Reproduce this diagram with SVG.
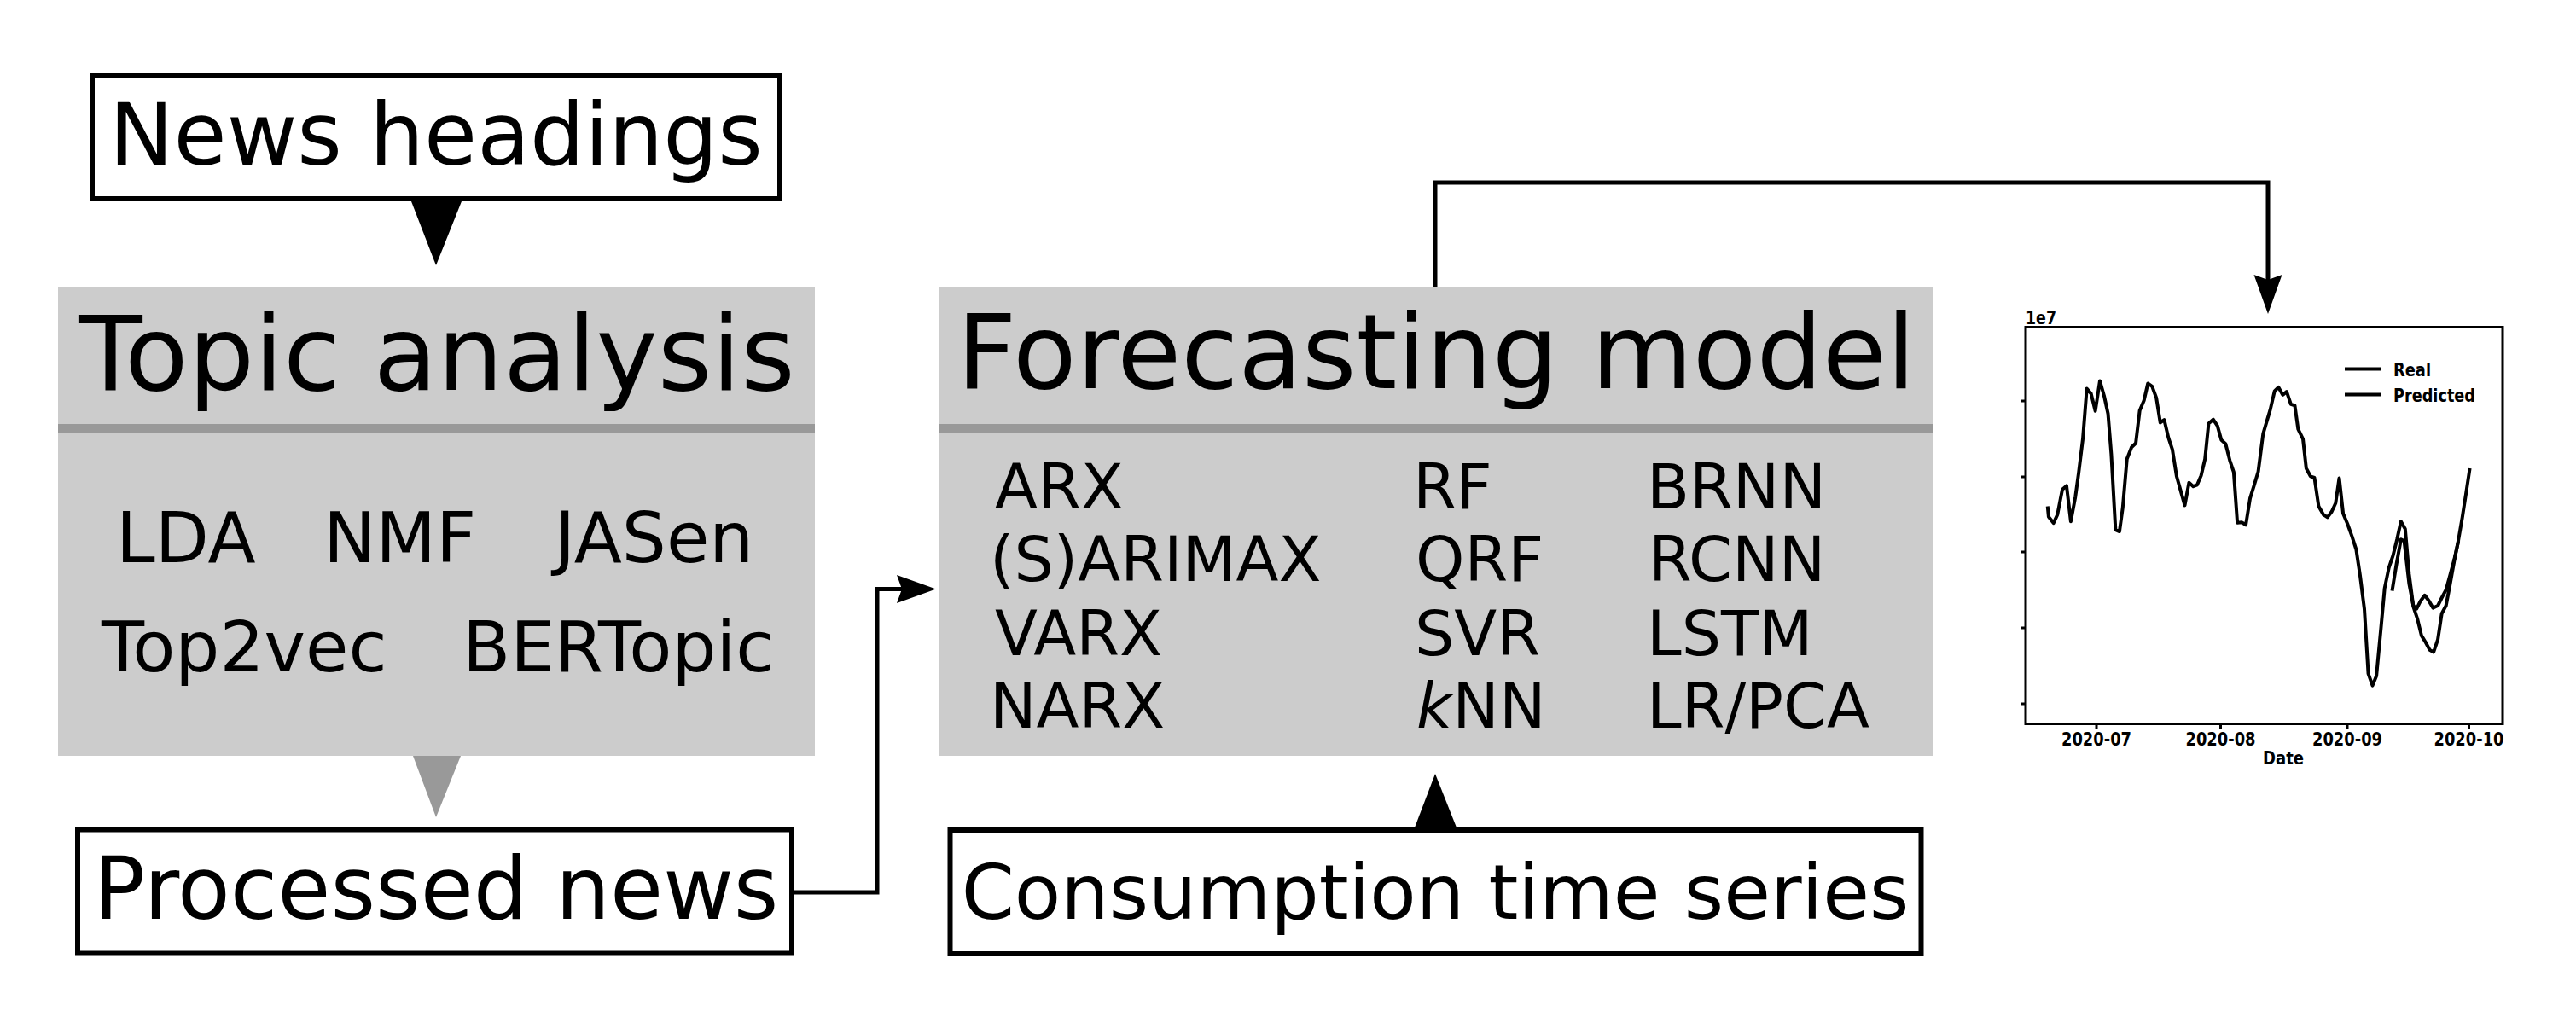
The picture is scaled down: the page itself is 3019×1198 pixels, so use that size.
<svg xmlns="http://www.w3.org/2000/svg" width="3019" height="1198" viewBox="0 0 3019 1198">
<style>
.box{fill:#fff;stroke:#000;stroke-width:6}
.panel{fill:#ccc}
.sep{fill:#999}
.t{font-family:"DejaVu Sans",sans-serif;fill:#000}
.conn{fill:none;stroke:#000;stroke-width:5}
.ax{fill:none;stroke:#000;stroke-width:3}
.cl{fill:none;stroke:#000;stroke-width:4;stroke-linejoin:round;vector-effect:non-scaling-stroke}
.ct{font-family:"DejaVu Sans",sans-serif;font-weight:bold;font-size:22px;fill:#000}
</style>
<defs>
<marker id="ah" markerUnits="userSpaceOnUse" markerWidth="50" markerHeight="40" viewBox="0 -20 50 40" refX="26" refY="0" orient="auto">
<path d="M0,-16.5 L46,0 L0,16.5 L6,0 Z" fill="#000"/>
</marker>
</defs>
<rect width="3019" height="1198" fill="#fff"/>

<g id="news-headings">
<rect class="box" x="108" y="89" width="806" height="144"/>
<text class="t" x="511" y="193" font-size="101" text-anchor="middle">News headings</text>
</g>

<g id="topic-analysis">
<rect class="panel" x="68" y="337" width="887" height="549"/>
<rect class="sep" x="68" y="497" width="887" height="10"/>
<text class="t" x="512" y="457" font-size="122" text-anchor="middle">Topic analysis</text>
<text class="t" x="136" y="659" font-size="82">LDA</text>
<text class="t" x="379" y="659" font-size="82">NMF</text>
<text class="t" x="650" y="659" font-size="82">JASen</text>
<text class="t" x="119" y="787" font-size="82">Top2vec</text>
<text class="t" x="542" y="787" font-size="82">BERTopic</text>
</g>

<g id="processed-news">
<rect class="box" x="91" y="972.5" width="837" height="145"/>
<text class="t" x="511" y="1077" font-size="101" text-anchor="middle">Processed news</text>
</g>

<g id="forecasting-model">
<rect class="panel" x="1100" y="337" width="1165" height="549"/>
<rect class="sep" x="1100" y="497" width="1165" height="10"/>
<text class="t" x="1683" y="455" font-size="122" text-anchor="middle">Forecasting model</text>
<g font-size="73">
<text class="t" x="1166" y="596">ARX</text>
<text class="t" x="1160" y="681">(S)ARIMAX</text>
<text class="t" x="1166" y="768">VARX</text>
<text class="t" x="1160" y="853">NARX</text>
<text class="t" x="1656" y="596">RF</text>
<text class="t" x="1659" y="681">QRF</text>
<text class="t" x="1658" y="768">SVR</text>
<text class="t" x="1660" y="853"><tspan font-style="italic">k</tspan>NN</text>
<text class="t" x="1930" y="596">BRNN</text>
<text class="t" x="1932" y="681">RCNN</text>
<text class="t" x="1930" y="768">LSTM</text>
<text class="t" x="1930" y="853">LR/PCA</text>
</g>
</g>

<g id="consumption-time-series">
<rect class="box" x="1113.5" y="973" width="1138" height="145"/>
<text class="t" x="1682" y="1077" font-size="89" text-anchor="middle">Consumption time series</text>
</g>

<g id="forecast-chart">
<rect class="ax" x="2374" y="383.5" width="559" height="465"/>
<path class="ax" d="M2369,470H2374M2369,559H2374M2369,647H2374M2369,736H2374M2369,825H2374M2457,848.5V854M2602.5,848.5V854M2751,848.5V854M2893.5,848.5V854"/>
<text class="ct" x="2374" y="380" textLength="36" lengthAdjust="spacingAndGlyphs">1e7</text>
<text class="ct" x="2457" y="874" text-anchor="middle" textLength="82" lengthAdjust="spacingAndGlyphs">2020-07</text>
<text class="ct" x="2602.5" y="874" text-anchor="middle" textLength="82" lengthAdjust="spacingAndGlyphs">2020-08</text>
<text class="ct" x="2751" y="874" text-anchor="middle" textLength="82" lengthAdjust="spacingAndGlyphs">2020-09</text>
<text class="ct" x="2893.5" y="874" text-anchor="middle" textLength="82" lengthAdjust="spacingAndGlyphs">2020-10</text>
<text class="ct" x="2676" y="896" text-anchor="middle" textLength="48" lengthAdjust="spacingAndGlyphs">Date</text>
<path class="ax" d="M2748,432.5H2790M2748,462.5H2790" style="stroke-width:4"/>
<text class="ct" x="2805" y="441" textLength="44" lengthAdjust="spacingAndGlyphs">Real</text>
<text class="ct" x="2805" y="471" textLength="96" lengthAdjust="spacingAndGlyphs">Predicted</text>
<g transform="translate(2350,340) scale(0.3827,0.37)">
<polyline class="cl" points="130,685 133,718 148,738 160,712 175,632 188,620 201,733 215,655 225,580 238,470 250,312 263,328 276,383 290,288 303,335 315,392 325,520 338,760 350,765 360,690 373,535 387,498 400,485 412,382 425,350 437,296 450,305 463,342 475,420 487,411 500,468 512,505 525,590 550,682 563,610 576,622 588,617 600,588 612,535 623,423 637,410 650,430 662,475 675,487 688,540 700,577 711,737 725,736 737,744 750,660 762,620 775,575 790,455 800,420 812,378 825,320 837,308 850,332 862,322 875,362 887,366 897,440 912,472 922,565 935,590 947,594 960,685 975,712 987,720 1000,702 1012,675 1023,596 1035,708 1048,740 1062,780 1075,822 1087,905 1100,1010 1112,1215 1125,1253 1137,1222 1150,1080 1162,945 1175,880 1188,840 1200,790 1212,733 1225,757 1237,900 1250,1003 1262,1040 1275,1095 1287,1115 1300,1140 1312,1147 1325,1107 1337,1025 1350,1000 1362,935 1375,860 1387,798 1400,720 1412,640 1423,565"/>
<polyline class="cl" points="1185,953 1198,870 1212,790 1222,795 1237,930 1250,1000 1260,1010 1272,985 1285,967 1298,985 1310,1007 1325,1000 1337,975 1350,950 1362,905 1375,855 1388,795"/>
</g>
</g>

<g id="connectors">
<polygon points="482,236 541,236 511,311" fill="#000"/>
<polygon points="484,886 540,886 511,958" fill="#999"/>
<polygon points="1658,970 1707,970 1682,907" fill="#000"/>
<path class="conn" d="M931,1046H1028V690.5H1077" marker-end="url(#ah)"/>
<path class="conn" d="M1682,337V214H2658V348" marker-end="url(#ah)"/>
</g>
</svg>
